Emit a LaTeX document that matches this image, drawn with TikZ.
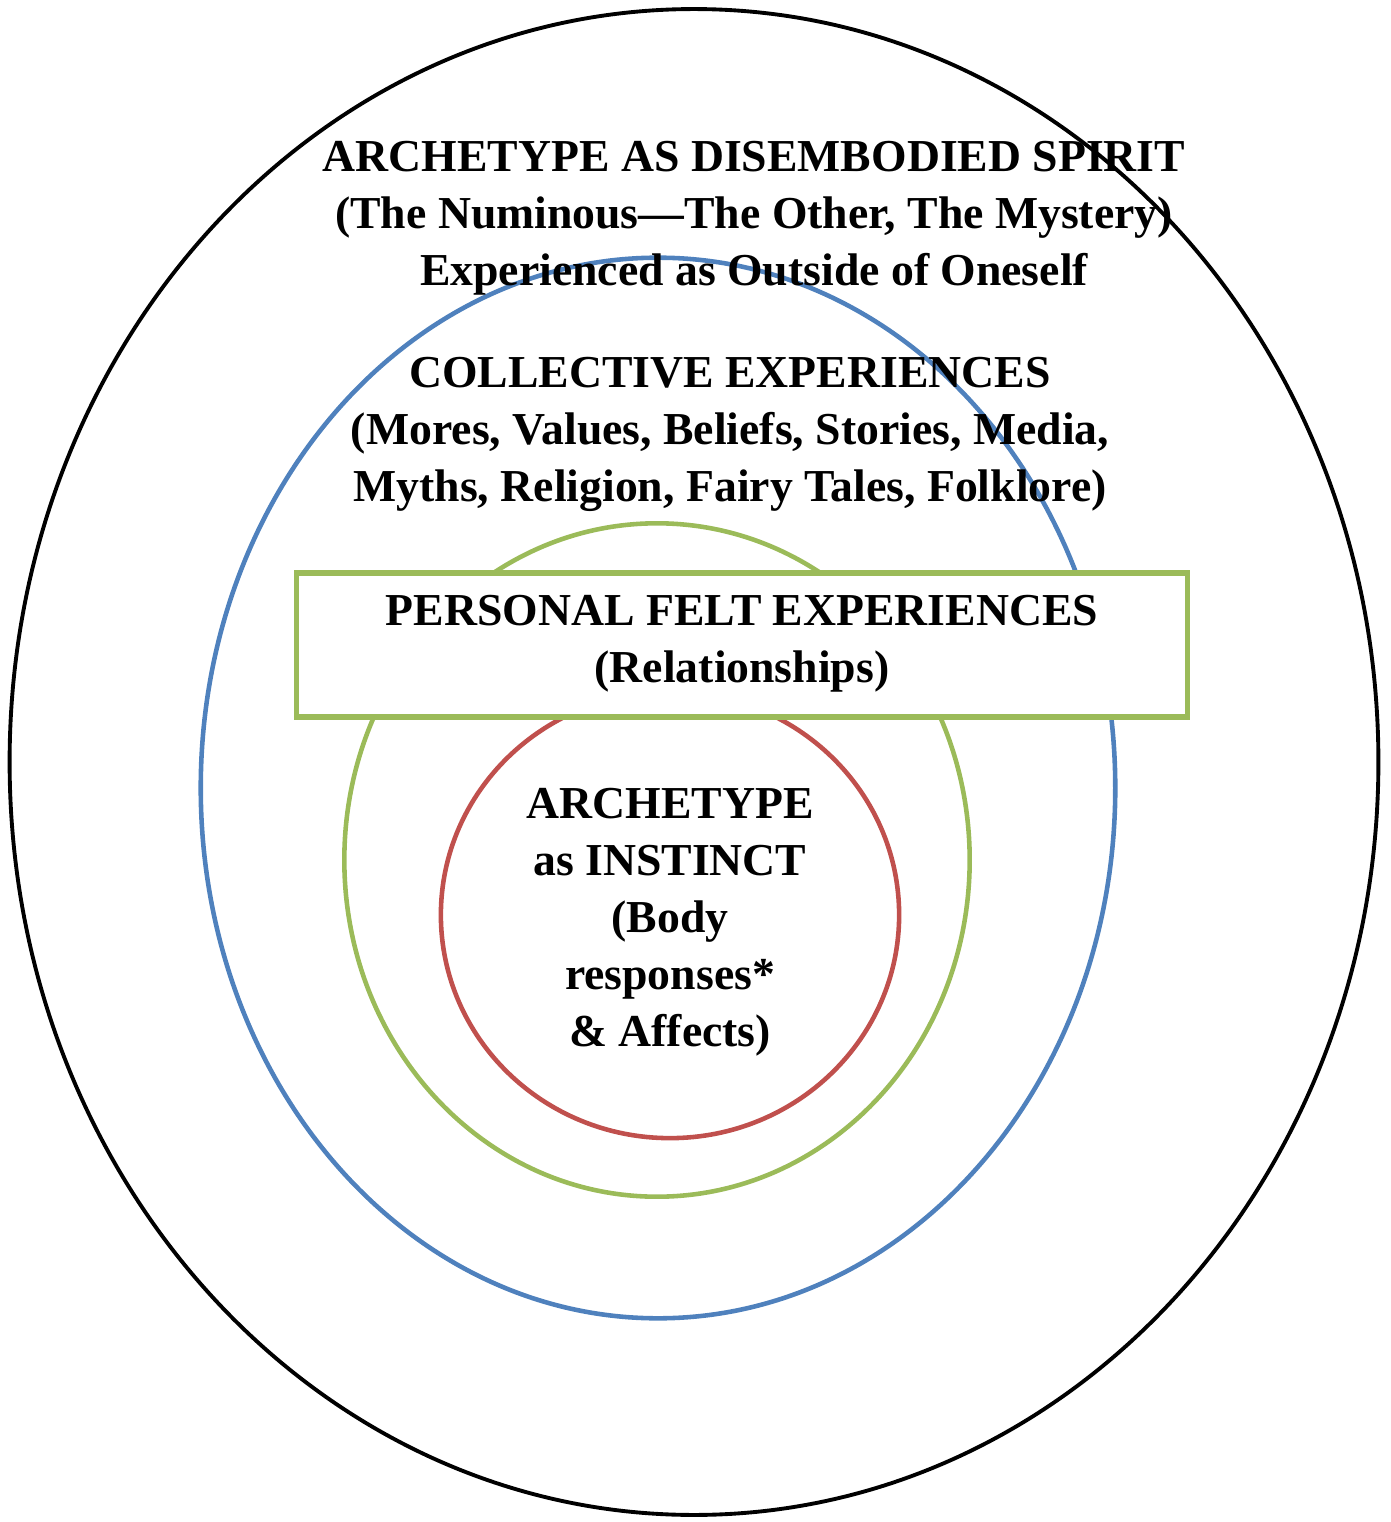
\documentclass[tikz,border=0pt]{standalone}
\usepackage{fontspec}
\setmainfont{Liberation Serif}
\usetikzlibrary{shapes.geometric}
\definecolor{ringblue}{HTML}{4F81BD}
\definecolor{ringgreen}{HTML}{9BBB59}
\definecolor{ringred}{HTML}{C0504D}

\begin{document}
\begin{tikzpicture}[
            x=0.01cm,
            y=-0.01cm,
            ring/.style={ellipse, draw=#1, inner sep=0pt, line width=1.3pt},
            ringtext/.style={align=center, font=\fontsize{13}{16.2}\selectfont\bfseries},
            feltbox/.style={rectangle, draw=ringgreen, fill=white, line width=1.5pt,
                minimum width=8.9cm, minimum height=1.44cm, ringtext}
        ]

        \useasboundingbox (0,0) rectangle (1390,1522);

        % Rings
        \node[ring=black, line width=1.1pt, minimum width=13.68cm, minimum height=15.05cm] (spirit) at (694,762) {};
        \node[ring=ringblue, minimum width=9.14cm, minimum height=10.6cm] (collective) at (658,788) {};
        \node[ring=ringgreen, minimum width=6.25cm, minimum height=6.73cm] (personal) at (657,860) {};
        \node[ring=ringred, minimum width=4.58cm, minimum height=4.46cm] (instinct) at (670,915) {};

        % Box
        \node[feltbox, text depth=0.12cm] (felt) at (742,645) {PERSONAL FELT EXPERIENCES\\(Relationships)};

        % Texts
        \node[ringtext] (spirittext) at (754,218)
            {ARCHETYPE AS DISEMBODIED SPIRIT\\(The Numinous---The Other, The Mystery)\\Experienced as Outside of Oneself};
        \node[ringtext] (collectivetext) at (730,434)
            {COLLECTIVE EXPERIENCES\\(Mores, Values, Beliefs, Stories, Media,\\Myths, Religion, Fairy Tales, Folklore)};
        \node[ringtext] (instincttext) at (670,922)
            {ARCHETYPE\\as INSTINCT\\(Body\\responses*\\\& Affects)};

        \end{tikzpicture}
\end{document}
